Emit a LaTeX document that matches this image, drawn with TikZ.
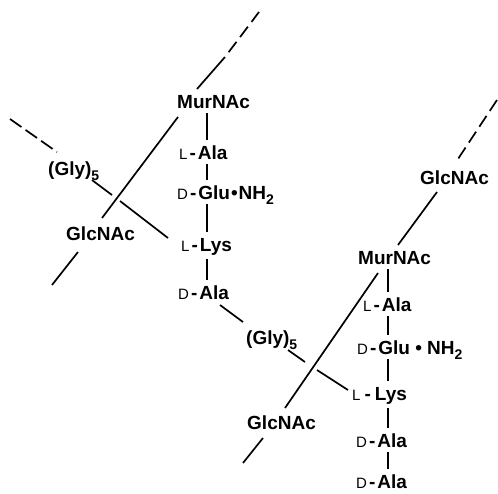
\documentclass[tikz,border=0pt]{standalone}
\usepackage{fontspec}
\setmainfont{Liberation Sans}
\newcommand\pfx[1]{{\fontsize{15}{15}\selectfont\mdseries #1}\kern2pt-\kern2pt}
\newcommand\pfxs[1]{{\fontsize{15}{15}\selectfont\mdseries #1}\kern4pt-\kern4pt}
\newcommand\subs[1]{\raisebox{-5pt}{\fontsize{14}{14}\selectfont #1}}
\begin{document}
\begin{tikzpicture}[x=1pt,y=-1pt,
  lbl/.style={font=\fontsize{19}{23}\selectfont\bfseries, inner sep=0pt, text height=14pt, text depth=0pt, anchor=west},
  bond/.style={line width=1.7pt},
  dsh/.style={line width=1.7pt, dash pattern=on 13pt off 6pt},
  vb/.style={line width=1.7pt, shorten <=5pt, shorten >=5pt}]
\useasboundingbox (0,0) rectangle (498,493);
% left unit
\node[lbl] (m1) at (177,101) {MurNAc};
\node[lbl] (a1) at (179,152) {\pfx{L}Ala};
\node[lbl] (g1) at (177,192) {\pfx{D}Glu\kern1pt\textbullet\kern1pt NH\subs{2}};
\node[lbl] (k1) at (181,244) {\pfx{L}Lys};
\node[lbl] (d1) at (178,292) {\pfx{D}Ala};
\node[lbl] (n1) at (66,233) {GlcNAc};
\node[lbl] (y1) at (48,168) {(Gly)\subs{5}};
\node[lbl] (y2) at (246,337) {(Gly)\subs{5}};
% right unit
\node[lbl] (n2) at (420,177) {GlcNAc};
\node[lbl] (m2) at (358,257) {MurNAc};
\node[lbl] (a2) at (363,304) {\pfx{L}Ala};
\node[lbl] (g2) at (357,347) {\pfx{D}Glu \textbullet{} NH\subs{2}};
\node[lbl] (k2) at (352,393) {\pfxs{L}Lys};
\node[lbl] (d2) at (356,440) {\pfx{D}Ala};
\node[lbl] (d3) at (356,481) {\pfx{D}Ala};
\node[lbl] (n3) at (247,422) {GlcNAc};
% column coordinates
\coordinate (c1) at (207,0);
\coordinate (c2) at (388,0);
% vertical peptide bonds
\draw[vb] (m1.south -| c1) -- (a1.north -| c1);
\draw[vb] (a1.south -| c1) -- (g1.north -| c1);
\draw[vb] (g1.south -| c1) -- (k1.north -| c1);
\draw[vb, shorten <=8pt] (k1.south -| c1) -- (d1.north -| c1);
\draw[vb] (m2.south -| c2) -- (a2.north -| c2);
\draw[vb] (a2.south -| c2) -- (g2.north -| c2);
\draw[vb] (g2.south -| c2) -- (k2.north -| c2);
\draw[vb, shorten <=8pt] (k2.south -| c2) -- (d2.north -| c2);
\draw[vb] (d2.south -| c2) -- (d3.north -| c2);
% left glycan strand
\coordinate (L1) at (259,12);
\coordinate (L2) at (225,57);
\coordinate (L3) at (197,89);
\coordinate (L4) at (178,117);
\coordinate (L5) at (102,218);
\coordinate (L6) at (78,252);
\coordinate (L7) at (52,285);
\draw[dsh, dash phase=13pt] (L2) -- (L1);
\draw[bond] (L3) -- (L2);
\draw[bond] (L4) -- (L5);
\draw[bond] (L6) -- (L7);
% left pentaglycine
\coordinate (G1) at (10,119);
\coordinate (G2) at (57,152);
\coordinate (G3) at (92,180);
\coordinate (G4) at (112,195);
\coordinate (G5) at (120,201);
\coordinate (G6) at (168,238);
\draw[bond, dash pattern=on 14pt off 5pt] (G1) -- (G2);
\draw[bond] (G3) -- (G4);
\draw[bond] (G5) -- (G6);
% cross bridge
\coordinate (H1) at (220,305);
\coordinate (H2) at (243,322);
\coordinate (H3) at (288,350);
\coordinate (H4) at (305,362);
\coordinate (H5) at (317,370);
\coordinate (H6) at (348,390);
\draw[bond] (H1) -- (H2);
\draw[bond] (H3) -- (H4);
\draw[bond] (H5) -- (H6);
% right glycan strand
\coordinate (R1) at (497,100);
\coordinate (R2) at (456,162);
\coordinate (R3) at (437,192);
\coordinate (R4) at (398,245);
\coordinate (R5) at (378,273);
\coordinate (R6) at (285,408);
\coordinate (R7) at (263,438);
\coordinate (R8) at (243,463);
\draw[dsh] (R1) -- (R2);
\draw[bond] (R3) -- (R4);
\draw[bond] (R5) -- (R6);
\draw[bond] (R7) -- (R8);
\end{tikzpicture}
\end{document}
